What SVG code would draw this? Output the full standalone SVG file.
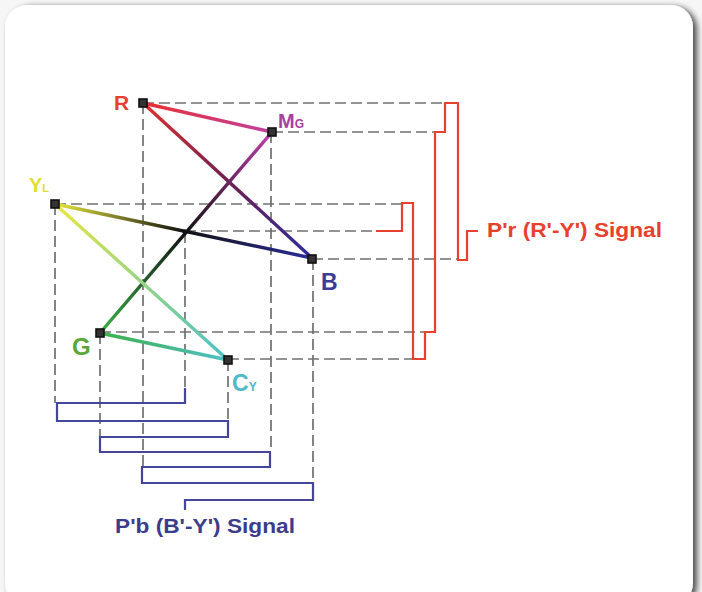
<svg xmlns="http://www.w3.org/2000/svg" width="702" height="592" viewBox="0 0 702 592">
<defs>
<filter id="sh" x="-5%" y="-5%" width="110%" height="110%">
<feGaussianBlur in="SourceAlpha" stdDeviation="3"/>
<feOffset dx="4" dy="2" result="b"/>
<feComponentTransfer><feFuncA type="linear" slope="0.7"/></feComponentTransfer>
<feMerge><feMergeNode/><feMergeNode in="SourceGraphic"/></feMerge>
</filter>
<linearGradient id="gRM" gradientUnits="userSpaceOnUse" x1="143" y1="103" x2="272" y2="132"><stop offset="0" stop-color="#e83030"/><stop offset="1" stop-color="#c040a0"/></linearGradient>
<linearGradient id="gRB" gradientUnits="userSpaceOnUse" x1="143" y1="103" x2="312" y2="258"><stop offset="0" stop-color="#e03030"/><stop offset="0.5" stop-color="#702050"/><stop offset="1" stop-color="#2c2c9c"/></linearGradient>
<linearGradient id="gMG" gradientUnits="userSpaceOnUse" x1="272" y1="132" x2="100" y2="333"><stop offset="0" stop-color="#c040b0"/><stop offset="0.5" stop-color="#111111"/><stop offset="1" stop-color="#3cb048"/></linearGradient>
<linearGradient id="gYB" gradientUnits="userSpaceOnUse" x1="55" y1="204" x2="312" y2="258"><stop offset="0" stop-color="#e8e840"/><stop offset="0.5" stop-color="#111111"/><stop offset="1" stop-color="#2c2c9c"/></linearGradient>
<linearGradient id="gYC" gradientUnits="userSpaceOnUse" x1="55" y1="204" x2="228" y2="360"><stop offset="0" stop-color="#e8e840"/><stop offset="1" stop-color="#48c0c8"/></linearGradient>
<linearGradient id="gGC" gradientUnits="userSpaceOnUse" x1="100" y1="333" x2="228" y2="360"><stop offset="0" stop-color="#3cb048"/><stop offset="1" stop-color="#50c0c8"/></linearGradient>
</defs>
<style>
.dash{fill:none;stroke:#707070;stroke-width:1.7;stroke-dasharray:11 5}
.vec{fill:none;stroke-width:3.4}
.node{fill:#333;stroke:#111;stroke-width:1.6}
.lbl{font-family:"Liberation Sans",Arial,sans-serif;font-weight:bold}
.red{fill:none;stroke:#e8402e;stroke-width:2.2}
.blue{fill:none;stroke:#45459a;stroke-width:2.2}
</style>
<rect x="0" y="0" width="702" height="592" fill="#f6f6f6"/>
<rect x="5" y="5" width="688" height="600" rx="22" fill="#ffffff" filter="url(#sh)"/>

<g id="connectors">
<g id="guides">
<path class="dash" d="M143 103H445M272 132H435M55 204H402M185 231H376M312 259H458M100 332H425M228 359H413"/>
<path class="dash" d="M55 204V403M100 333V437M143 103V467M185 232V388M228 360V421M271 132V452M313 259V483"/>
</g>
<g id="vectors">
<line class="vec" stroke="url(#gRM)" x1="143" y1="103" x2="272" y2="132"/>
<line class="vec" stroke="url(#gRB)" x1="143" y1="103" x2="312" y2="258"/>
<line class="vec" stroke="url(#gMG)" x1="272" y1="132" x2="100" y2="333"/>
<line class="vec" stroke="url(#gYB)" x1="55" y1="204" x2="312" y2="258"/>
<line class="vec" stroke="url(#gYC)" x1="55" y1="204" x2="228" y2="360"/>
<line class="vec" stroke="url(#gGC)" x1="100" y1="333" x2="228" y2="360"/>
</g>
<path id="pr-signal" class="red" d="M376 231H402V203H413V359H425V332H435V132H445V103H458V260H467V231H478"/>
<path id="pb-signal" class="blue" d="M185 388V403H57V421H228V437H100V452H270V467H142V483H313V500H185V510"/>
</g>

<g id="node-R"><rect class="node" x="139" y="99" width="8" height="8"/><text class="lbl" x="114" y="110" font-size="21" fill="#e8402e">R</text></g>
<g id="node-MG"><rect class="node" x="268" y="128" width="8" height="8"/><text class="lbl" x="278" y="128" font-size="20" fill="#a8409e">M<tspan font-size="12">G</tspan></text></g>
<g id="node-YL"><rect class="node" x="51" y="200" width="8" height="8"/><text class="lbl" x="29" y="192" font-size="20" fill="#e0e030">Y<tspan font-size="11">L</tspan></text></g>
<g id="node-center"><circle cx="185" cy="232" r="2.5" fill="#111"/></g>
<g id="node-B"><rect class="node" x="308" y="255" width="8" height="8"/><text class="lbl" x="321" y="290" font-size="23" fill="#3c3c96">B</text></g>
<g id="node-G"><rect class="node" x="96" y="329" width="8" height="8"/><text class="lbl" x="72" y="355" font-size="24" fill="#58a838">G</text></g>
<g id="node-CY"><rect class="node" x="224" y="356" width="8" height="8"/><text class="lbl" x="232" y="391" font-size="23" fill="#50b8c8">C<tspan font-size="12">Y</tspan></text></g>

<g id="label-pr"><text class="lbl" x="487" y="237" font-size="20" fill="#e8402e" textLength="175" lengthAdjust="spacingAndGlyphs">P'r (R'-Y') Signal</text></g>
<g id="label-pb"><text class="lbl" x="115" y="533" font-size="20" fill="#3c3c8c" textLength="180" lengthAdjust="spacingAndGlyphs">P'b (B'-Y') Signal</text></g>
</svg>
